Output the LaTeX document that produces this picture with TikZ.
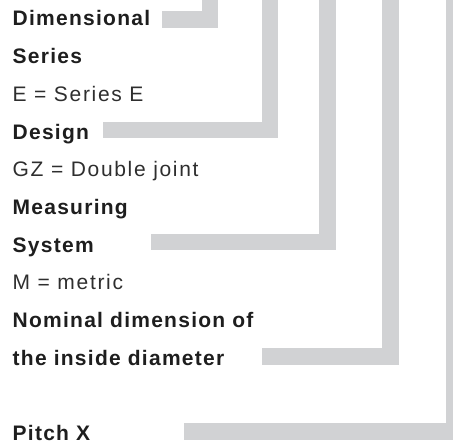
\documentclass[tikz,border=0pt]{standalone}
\usepackage{fontspec}
\setmainfont{Liberation Sans}
\newfontfamily\keyfont[LetterSpace=6]{Liberation Sans Bold}
\newfontfamily\codefont[LetterSpace=8]{Liberation Sans}
\usetikzlibrary{positioning}
\definecolor{bargray}{HTML}{D1D2D4}
\definecolor{inkdark}{HTML}{1E1E1E}
\definecolor{inklight}{HTML}{2E2E2E}
\tikzset{
    x=1pt, y=1pt,
    node distance=18.3pt, % gap between two text lines
    line/.style={ % Sets the properties for each text line
        inner sep=0pt,
        text height=15pt,
        text depth=4pt,
        font=\fontsize{21}{25}\selectfont
    },
    key/.style={line, text=inkdark, font=\fontsize{21}{25}\keyfont},
    code/.style={line, text=inklight, font=\fontsize{21}{25}\codefont},
    bar/.style={ % Sets the properties for each grey bar
        draw=bargray,
        line width=16.5pt,
        line join=miter
    },
}

\begin{document}
\begin{tikzpicture}
            \useasboundingbox (0,0) rectangle (453,-441);
            \node[key, anchor=base west]                              (dim)   at (12.5,-26) {Dimensional};
            \node[key, below=of dim.south west, anchor=north west]     (ser)   {Series};
            \node[code, below=of ser.south west, anchor=north west]    (sere)  {E = Series E};
            \node[key, below=of sere.south west, anchor=north west]    (des)   {Design};
            \node[code, below=of des.south west, anchor=north west]    (desgz) {GZ = Double joint};
            \node[key, below=of desgz.south west, anchor=north west]   (mea)   {Measuring};
            \node[key, below=of mea.south west, anchor=north west]     (sys)   {System};
            \node[code, below=of sys.south west, anchor=north west]    (sysm)  {M = metric};
            \node[key, below=of sysm.south west, anchor=north west]    (nom)   {Nominal dimension of};
            \node[key, below=of nom.south west, anchor=north west]     (ins)   {the inside diameter};
            \node[key, below=55.6pt of ins.south west, anchor=north west] (pit) {Pitch X};
            % ends of the bars
            \coordinate (t1) at (210,0);     \coordinate (e1) at (162,-19.5);
            \coordinate (t2) at (270,0);     \coordinate (e2) at (103,-130);
            \coordinate (t3) at (327.5,0);   \coordinate (e3) at (151,-242);
            \coordinate (t4) at (390.5,0);   \coordinate (e4) at (262,-356.5);
            \coordinate (t5) at (454.5,0);   \coordinate (e5) at (184,-431.5);
            \draw[bar]  (t1) |- (e1)
                        (t2) |- (e2)
                        (t3) |- (e3)
                        (t4) |- (e4)
                        (t5) |- (e5)
            ;
        \end{tikzpicture}
\end{document}
